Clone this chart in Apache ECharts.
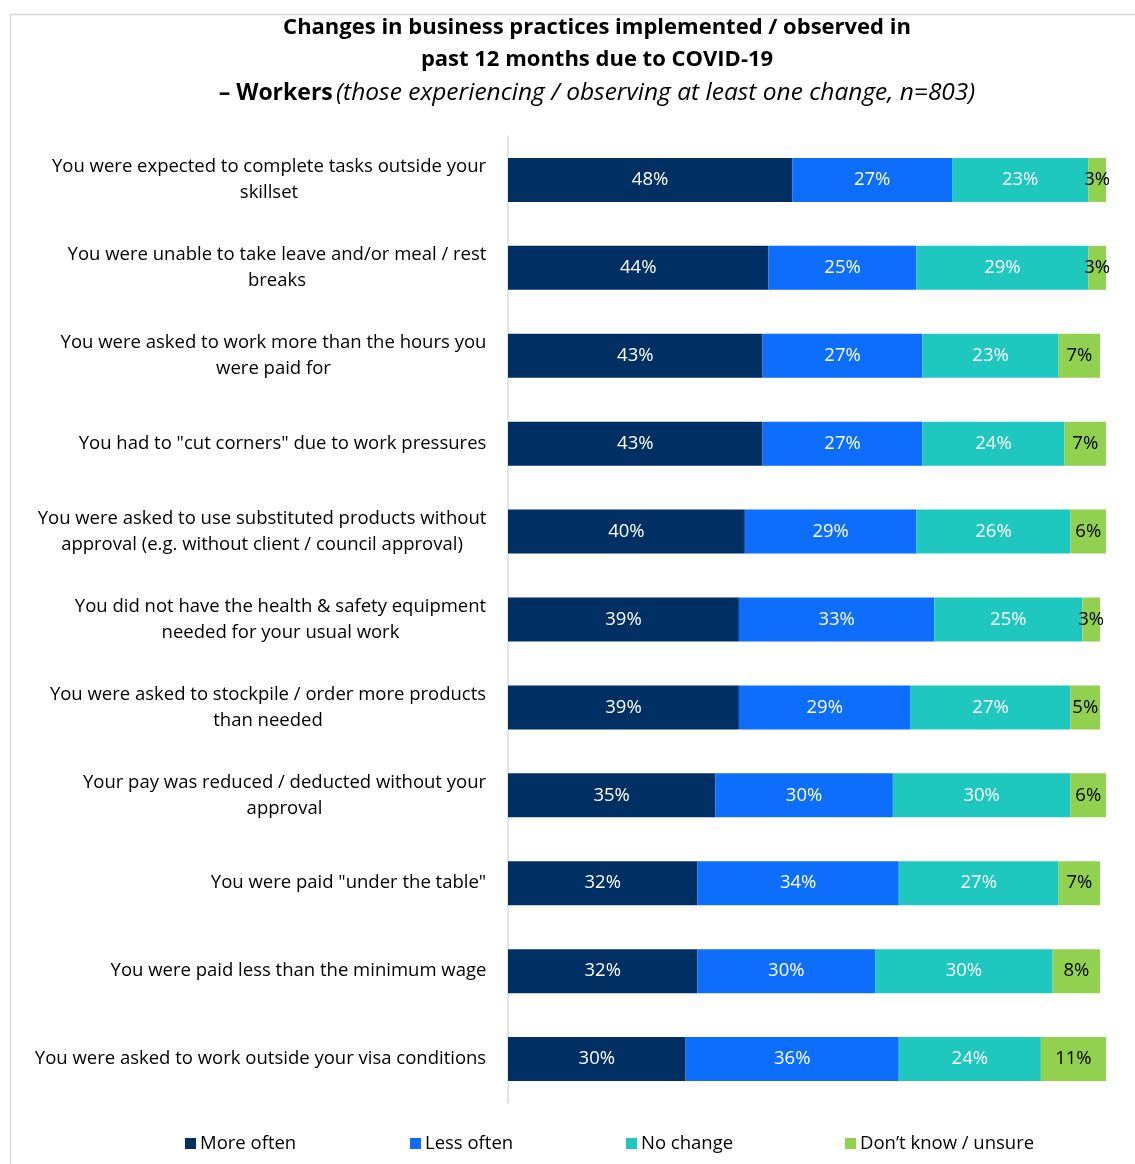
<!DOCTYPE html>
<html>
<head>
<meta charset="utf-8">
<script src="https://cdn.jsdelivr.net/npm/echarts@6/dist/echarts.min.js"></script>
<style>
  html, body { margin: 0; padding: 0; background: #fff; }
  #chart { width: 1135px; height: 1164px; }
</style>
</head>
<body>
<div id="chart"></div>
<script>
// Business practice changes reported by workers (percent of respondents)
const categories = [
  'You were expected to complete tasks outside your\nskillset',
  'You were unable to take leave and/or meal / rest\nbreaks',
  'You were asked to work more than the hours you\nwere paid for',
  'You had to "cut corners" due to work pressures',
  'You were asked to use substituted products without\napproval (e.g. without client / council approval)',
  'You did not have the health & safety equipment\nneeded for your usual work',
  'You were asked to stockpile / order more products\nthan needed',
  'Your pay was reduced / deducted without your\napproval',
  'You were paid "under the table"',
  'You were paid less than the minimum wage',
  'You were asked to work outside your visa conditions'
];
const seriesNames = ['More often', 'Less often', 'No change', 'Don\u2019t know / unsure'];
const moreOften  = [48, 44, 43, 43, 40, 39, 39, 35, 32, 32, 30];
const lessOften  = [27, 25, 27, 27, 29, 33, 29, 30, 34, 30, 36];
const noChange   = [23, 29, 23, 24, 26, 25, 27, 30, 27, 30, 24];
const dontKnow   = [3, 3, 7, 7, 6, 3, 5, 6, 7, 8, 11];

const colors = ['#003063', '#0d6efd', '#1ec8bf', '#92d050'];
const labelColors = ['#ffffff', '#ffffff', '#ffffff', '#000000'];
const FONT = '"Open Sans", "Noto Sans", sans-serif';
const CAT_SIZE = 18.5;

// Measure each category block so its lines can be centred on one another
// while the block as a whole stays right-aligned against the axis.
const ctx = document.createElement('canvas').getContext('2d');
ctx.font = CAT_SIZE + 'px "Open Sans"';
const catRich = {};
const catKey = {};
categories.forEach((c, i) => {
  const w = Math.max(...c.split('\n').map(s => ctx.measureText(s).width));
  const key = 'c' + i;
  catKey[c] = key;
  catRich[key] = {
    width: Math.ceil(w) + 1,
    align: 'center',
    fontFamily: FONT,
    fontSize: CAT_SIZE,
    lineHeight: 26,
    color: '#000'
  };
});

const chart = echarts.init(document.getElementById('chart'));
const values = [moreOften, lessOften, noChange, dontKnow];

const series = values.map((vals, i) => ({
  name: seriesNames[i],
  type: 'bar',
  stack: 'total',
  barWidth: 44,
  data: vals,
  itemStyle: { color: colors[i] },
  label: {
    show: true,
    position: 'inside',
    formatter: '{c}%',
    color: labelColors[i],
    fontFamily: FONT,
    fontSize: 18.5
  },
  emphasis: { disabled: true }
}));

const legendLefts = [180, 405, 621, 840];
const legends = seriesNames.map((n, i) => ({
  data: [n],
  bottom: 6,
  left: legendLefts[i],
  itemWidth: 11,
  itemHeight: 11,
  itemGap: 0,
  icon: 'rect',
  selectedMode: false,
  textStyle: { fontFamily: FONT, fontSize: 18.5, color: '#000', padding: [0, 0, 0, -1] }
}));

chart.setOption({
  animation: false,
  backgroundColor: '#ffffff',
  title: {
    left: 592,
    textAlign: 'center',
    top: 7,
    text: 'Changes in business practices implemented / observed in\npast 12 months due to COVID-19',
    textStyle: {
      fontFamily: FONT, fontSize: 22, fontWeight: 'bold', color: '#000', lineHeight: 32
    },
    subtext: '{b|\u2013 Workers} {i|(those experiencing / observing at least one change, n=803)}',
    itemGap: 5,
    subtextStyle: {
      rich: {
        b: { fontFamily: FONT, fontSize: 23, fontWeight: 'bold', color: '#000' },
        i: { fontFamily: FONT, fontSize: 24.5, fontStyle: 'italic', color: '#000' }
      }
    }
  },
  legend: legends,
  grid: { left: 508, top: 136, width: 598, height: 967, containLabel: false },
  xAxis: {
    type: 'value',
    min: 0,
    max: 101,
    show: false
  },
  yAxis: {
    type: 'category',
    inverse: true,
    data: categories,
    axisLine: { show: true, lineStyle: { color: '#d9d9d9', width: 1.5 } },
    axisTick: { show: false },
    axisLabel: {
      margin: 21,
      align: 'right',
      formatter: v => v.split('\n').map(s => '{' + catKey[v] + '|' + s + '}').join('\n'),
      rich: catRich
    }
  },
  graphic: [
    { type: 'line', shape: { x1: 10.5, y1: 14, x2: 10.5, y2: 1164 }, style: { stroke: '#d9d9d9', lineWidth: 1.5 } },
    { type: 'line', shape: { x1: 10, y1: 14.5, x2: 1135, y2: 14.5 }, style: { stroke: '#d9d9d9', lineWidth: 1.5 } }
  ],
  series: series
});
</script>
</body>
</html>
